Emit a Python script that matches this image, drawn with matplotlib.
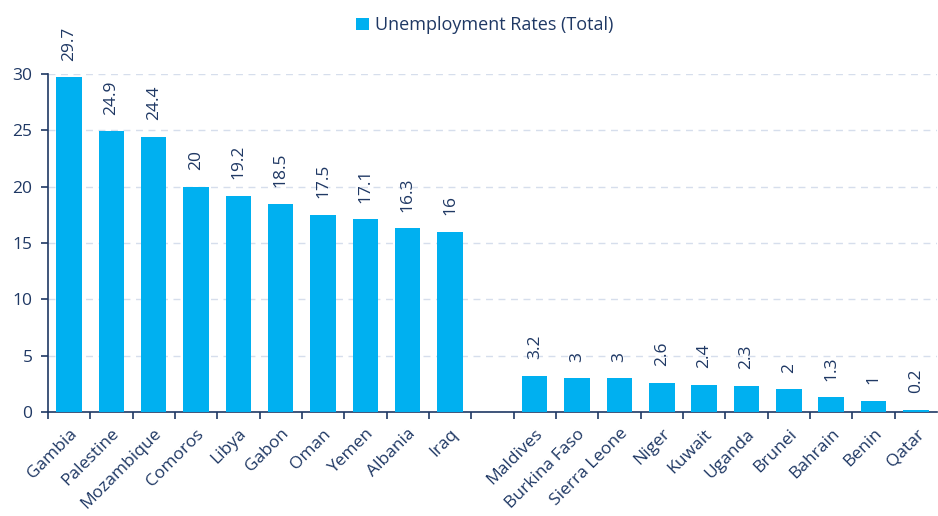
import numpy as np
import matplotlib.pyplot as plt
from matplotlib.ticker import FixedLocator

countries = ['Gambia', 'Palestine', 'Mozambique', 'Comoros', 'Libya', 'Gabon', 'Oman',
             'Yemen', 'Albania', 'Iraq', '', 'Maldives', 'Burkina Faso', 'Sierra Leone',
             'Niger', 'Kuwait', 'Uganda', 'Brunei', 'Bahrain', 'Benin', 'Qatar']
rates = [29.7, 24.9, 24.4, 20, 19.2, 18.5, 17.5, 17.1, 16.3, 16, None,
         3.2, 3, 3, 2.6, 2.4, 2.3, 2, 1.3, 1, 0.2]

navy = '#1F3864'
blue = '#00B0F0'
plt.rcParams['font.family'] = ['Open Sans', 'DejaVu Sans']

fig = plt.figure(figsize=(9.38, 5.16), dpi=100)
ax = fig.add_axes([0.051, 0.2016, 0.948, 0.6550])

x = np.arange(len(countries))
vals = [np.nan if v is None else v for v in rates]
bars = ax.bar(x, vals, width=0.6, color=blue, label='Unemployment Rates (Total)', zorder=3)

for xi, v in zip(x, rates):
    if v is None:
        continue
    ax.annotate(f'{v:g}', (xi, v), xytext=(0, 12), textcoords='offset points',
                rotation=90, ha='center', va='bottom', color=navy, fontsize=12.5,
                annotation_clip=False)

ax.set_xlim(-0.5, len(countries) - 0.5)
ax.set_ylim(0, 30)
ax.set_yticks(range(0, 31, 5))
ax.yaxis.grid(True, ls=(0, (5, 4)), color='#D6DEEC', lw=1, zorder=0)

ax.set_xticks(x)
ax.set_xticklabels(countries, rotation=45, ha='right', rotation_mode='anchor')
ax.xaxis.set_minor_locator(FixedLocator(np.arange(-0.5, len(countries) - 1, 1)))
ax.tick_params(axis='x', which='major', length=0, pad=10, labelsize=12.5, labelcolor=navy)
ax.tick_params(axis='x', which='minor', length=5, width=1.2, color=navy, direction='out')
ax.tick_params(axis='y', length=5, width=1.2, color=navy, labelsize=12.5, labelcolor=navy, pad=6)

for s in ['top', 'right']:
    ax.spines[s].set_visible(False)
for s in ['left', 'bottom']:
    ax.spines[s].set_color(navy)
    ax.spines[s].set_linewidth(1.2)

fig.legend(handles=[bars], labels=['Unemployment Rates (Total)'], loc='upper center',
           bbox_to_anchor=(0.517, 1.0), frameon=False, fontsize=13, handlelength=0.7,
           handleheight=0.7, handletextpad=0.35, labelcolor=navy)

plt.savefig('out.png', dpi=100)
